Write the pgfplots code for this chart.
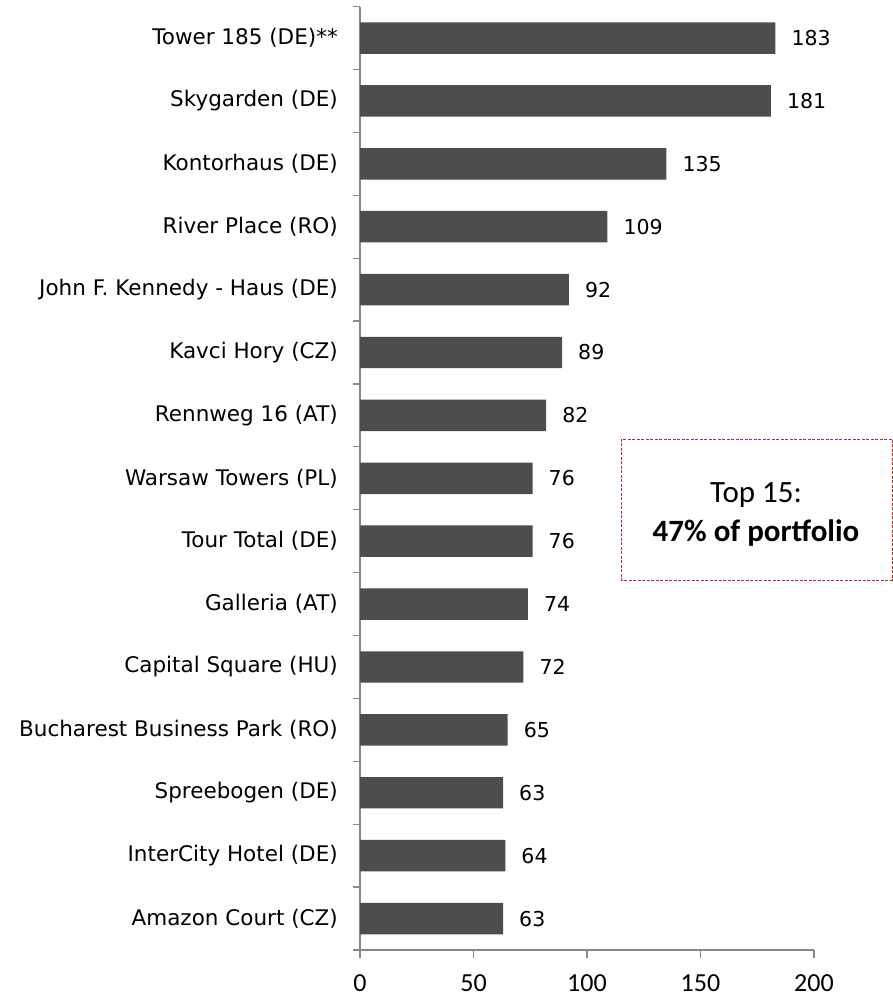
\documentclass[border=0pt]{standalone}
\usepackage{fontspec}
\setmainfont{DejaVu Sans}
\newfontfamily\carlito{Carlito}
\usepackage{pgfplots}
\pgfplotsset{compat=1.18}
\definecolor{barc}{HTML}{4D4D4D}
\definecolor{axc}{HTML}{888888}
\definecolor{boxred}{HTML}{C0262B}
\begin{document}
\begin{tikzpicture}[x=1pt,y=1pt]
\useasboundingbox (0,0) rectangle (893,998);
\begin{axis}[
  at={(360pt,48pt)}, anchor=south west,
  scale only axis, width=454pt, height=943.4pt,
  xbar, bar width=0.5,
  xmin=0, xmax=200, ymin=0.5, ymax=15.5,
  axis x line*=bottom, axis y line*=left,
  axis line style={draw=axc, line width=1.3pt, -},
  tick style={draw=axc, line width=1.3pt},
  tick align=outside,
  major tick length=8pt,
  minor tick length=7pt,
  xtick={0,50,100,150,200},
  xticklabels={0,50,100,150,200},
  xticklabel style={font=\carlito\fontsize{26}{26}\selectfont, inner sep=0pt, anchor=north, yshift=-16pt},
  ytick={1,...,15},
  yticklabels={Amazon Court (CZ),InterCity Hotel (DE),Spreebogen (DE),Bucharest Business Park (RO),Capital Square (HU),Galleria (AT),Tour Total (DE),Warsaw Towers (PL),Rennweg 16 (AT),Kavci Hory (CZ),John F. Kennedy - Haus (DE),River Place (RO),Kontorhaus (DE),Skygarden (DE),Tower 185 (DE)**},
  major y tick style={draw=none},
  minor ytick={0.5,1.5,...,15.5},
  yticklabel style={font=\fontsize{21.5}{21.5}\selectfont, inner sep=0pt, anchor=east, xshift=-14pt},
  /pgf/number format/assume math mode=true,
  nodes near coords,
  nodes near coords style={font=\fontsize{20.5}{20.5}\selectfont, anchor=west, inner sep=0pt, xshift=16pt, text=black},
  clip=false,
]
\addplot[fill=barc, draw=none] coordinates {
  (63,1) (64,2) (63,3) (65,4) (72,5) (74,6) (76,7) (76,8) (82,9) (89,10) (92,11) (109,12) (135,13) (181,14) (183,15)
};
\end{axis}
\draw[boxred, line width=0.8pt, dash pattern=on 3pt off 1.5pt] (621,559) rectangle (892,418);
\node[font=\carlito\fontsize{31}{31}\selectfont, anchor=base, inner sep=0pt] at (756,495) {Top 15:};
\node[font=\carlito\bfseries\fontsize{31}{31}\selectfont, anchor=base, inner sep=0pt] at (756,456) {47\% of portfolio};
\end{tikzpicture}
\end{document}
